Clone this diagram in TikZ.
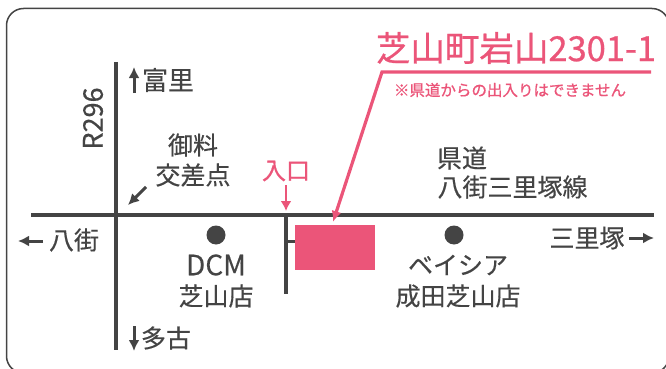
\documentclass[tikz,border=0pt]{standalone}
\usepackage{fontspec}
\setmainfont{Noto Sans CJK JP}[RawFeature={embolden=0.35}]
\newfontfamily\notefont{Noto Sans CJK JP}[RawFeature={embolden=0.9}]
\newfontfamily\pinkfont{Noto Sans CJK JP}[RawFeature={embolden=0.7}]
\usetikzlibrary{arrows.meta}
\definecolor{ink}{HTML}{444444}
\definecolor{rosy}{HTML}{EB5579}
\tikzset{
  lab/.style={inner sep=0pt,text=ink,font=\fontsize{25}{25}\selectfont},
  pinklab/.style={inner sep=0pt,text=rosy},
  road/.style={draw=ink,line width=4pt},
  dirarrow/.style={draw=ink,line width=3pt,-{Latex[length=11pt,width=11pt]}},
  pinkline/.style={draw=rosy,line width=3.2pt},
  shop/.style={circle,fill=ink,minimum size=19pt,inner sep=0pt},
}
\begin{document}
\begin{tikzpicture}[x=1pt,y=-1pt]
\useasboundingbox (0,0) rectangle (666,369);
\begin{scope}
\clip (0,0) rectangle (666,369);
\draw[draw=ink,line width=1.5pt,rounded corners=17pt] (6.5,8.5) rectangle (669,373);
\end{scope}
% road ends
\coordinate (vtop) at (115.5,62); \coordinate (vbot) at (115.5,350);
\coordinate (hl) at (31,214.5); \coordinate (hr) at (654,214.5);
\coordinate (stop) at (286,214.5); \coordinate (sbot) at (286,294);
\coordinate (sstub) at (286,241);
\draw[road] (vtop) -- (vbot);
\draw[road] (hl) -- (hr);
\draw[road] (stop) -- (sbot);
% site
\node[fill=rosy,minimum width=80pt,minimum height=45pt,inner sep=0pt] (site) at (335,247.5) {};
\draw[draw=ink,line width=3pt] (sstub) -- (site.west |- sstub);
% shops
\node[shop] (dcm) at (216,235) {};
\node[shop] (bei) at (454,235) {};
% labels
\node[lab,rotate=90,font=\fontsize{27}{27}\selectfont] (r) at (93,118.5) {R296};
\node[lab,font=\fontsize{26}{26}\selectfont] (tomi) at (168,80) {富里};
\node[lab] (oosa) at (166,338) {多古};
\node[lab] (oyo) at (193,145) {御料};
\node[lab] (kou) at (193,175) {交差点};
\node[lab] (ya) at (74,240) {八街};
\node[lab] (san) at (587,238) {三里塚};
\node[lab,font=\fontsize{28}{28}\selectfont] (dcmt) at (216,265) {DCM};
\node[lab] (dcms) at (216,296) {芝山店};
\node[lab] (beit) at (458,265) {ベイシア};
\node[lab] (beis) at (458,296) {成田芝山店};
\node[lab] (ken) at (462,158) {県道};
\node[lab] (kens) at (512.5,187) {八街三里塚線};
\node[pinklab,font=\pinkfont\fontsize{24}{24}\selectfont] (iri) at (286,171) {入口};
\node[pinklab,font=\pinkfont\fontsize{34.5}{34.5}\selectfont] (addr) at (516,48) {芝山町岩山2301-1};
\node[pinklab,font=\notefont\fontsize{15.5}{15.5}\selectfont] (note) at (510,90) {※県道からの出入りはできません};
% direction arrows
\coordinate (a1s) at (134,93); \coordinate (a1e) at (134,67);
\coordinate (a2s) at (134,326); \coordinate (a2e) at (134,351);
\coordinate (a3s) at (43,241); \coordinate (a3e) at (18,241);
\coordinate (a4s) at (629,238); \coordinate (a4e) at (654,238);
\coordinate (a5s) at (146,187); \coordinate (a5e) at (128,205);
\draw[dirarrow] (a1s) -- (a1e);
\draw[dirarrow] (a2s) -- (a2e);
\draw[dirarrow] (a3s) -- (a3e);
\draw[dirarrow] (a4s) -- (a4e);
\draw[dirarrow] (a5s) -- (a5e);
% pink connectors
\coordinate (p1) at (651,72); \coordinate (p2) at (382,72); \coordinate (p3) at (333,222);
\draw[pinkline,-{Latex[length=11pt,width=10pt]},line join=miter] (p1) -- (p2) -- (p3);
\coordinate (i1) at (286,185); \coordinate (i2) at (286,211);
\draw[draw=rosy,line width=2.6pt,-{Latex[length=10pt,width=11pt]}] (i1) -- (i2);
\end{tikzpicture}
\end{document}
